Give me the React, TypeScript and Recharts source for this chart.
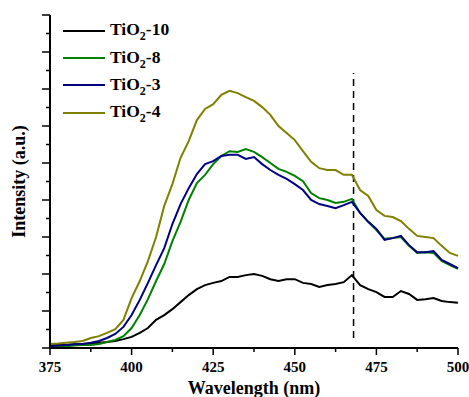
import React from 'react';
import { LineChart, Line, XAxis, YAxis, Legend, ReferenceLine } from 'recharts';

const wavelengths = [
  375, 377.5, 380, 382.5, 385, 387.5, 390, 392.5, 395, 397.5, 400,
  402.5, 405, 407.5, 410, 412.5, 415, 417.5, 420, 422.5, 425,
  427.5, 430, 432.5, 435, 437.5, 440, 442.5, 445, 447.5, 450,
  452.5, 455, 457.5, 460, 462.5, 465, 467.5, 470, 472.5, 475,
  477.5, 480, 482.5, 485, 487.5, 490, 492.5, 495, 497.5, 500,
];

const tio2_10 = [
  0.08, 0.08, 0.08, 0.10, 0.11, 0.12, 0.14, 0.16, 0.19, 0.24, 0.30,
  0.41, 0.54, 0.76, 0.89, 1.05, 1.24, 1.43, 1.59, 1.70, 1.76,
  1.81, 1.92, 1.92, 1.97, 2.00, 1.95, 1.86, 1.81, 1.86, 1.86,
  1.76, 1.73, 1.65, 1.70, 1.73, 1.78, 1.97, 1.70, 1.59, 1.51,
  1.38, 1.38, 1.54, 1.46, 1.30, 1.32, 1.35, 1.27, 1.24, 1.22,
];

const tio2_8 = [
  0.05, 0.05, 0.05, 0.07, 0.08, 0.08, 0.11, 0.16, 0.22, 0.32, 0.54,
  0.89, 1.32, 1.81, 2.27, 2.89, 3.41, 4.00, 4.46, 4.68, 4.97,
  5.19, 5.32, 5.30, 5.38, 5.30, 5.16, 5.00, 4.84, 4.76, 4.65,
  4.51, 4.19, 4.05, 4.00, 3.92, 3.95, 4.03, 3.65, 3.41, 3.19,
  2.95, 2.97, 3.00, 2.76, 2.57, 2.59, 2.57, 2.35, 2.24, 2.14,
];

const tio2_3 = [
  0.05, 0.07, 0.08, 0.10, 0.11, 0.14, 0.19, 0.27, 0.38, 0.57, 0.89,
  1.30, 1.76, 2.24, 2.70, 3.35, 3.89, 4.32, 4.70, 4.97, 5.05,
  5.19, 5.22, 5.22, 5.11, 5.16, 4.97, 4.81, 4.68, 4.57, 4.43,
  4.27, 4.00, 3.89, 3.84, 3.78, 3.86, 3.95, 3.65, 3.41, 3.22,
  2.92, 2.97, 3.03, 2.78, 2.59, 2.59, 2.62, 2.38, 2.27, 2.16,
];

const tio2_4 = [
  0.11, 0.12, 0.14, 0.16, 0.19, 0.27, 0.32, 0.41, 0.51, 0.76, 1.35,
  1.81, 2.35, 3.00, 3.84, 4.43, 5.14, 5.59, 6.16, 6.46, 6.59,
  6.84, 6.95, 6.89, 6.78, 6.68, 6.51, 6.30, 6.00, 5.81, 5.62,
  5.32, 5.03, 4.86, 4.81, 4.81, 4.68, 4.68, 4.27, 4.11, 3.73,
  3.57, 3.54, 3.43, 3.22, 3.03, 3.00, 2.97, 2.76, 2.57, 2.49,
];

const seriesNames = ['TiO2-10', 'TiO2-8', 'TiO2-3', 'TiO2-4'];
const seriesColors = ['#000000', '#008000', '#000080', '#808000'];

const xTicks = [375, 387.5, 400, 412.5, 425, 437.5, 450, 462.5, 475, 487.5, 500];
const yTicks = [0, 0.5, 1, 1.5, 2, 2.5, 3, 3.5, 4, 4.5, 5, 5.5, 6, 6.5, 7, 7.5, 8, 8.5, 9];
const markerWavelength = 468;
const markerRange = [0.27, 7.43];

const data = wavelengths.map((w, i) => ({
  w,
  s10: tio2_10[i],
  s8: tio2_8[i],
  s3: tio2_3[i],
  s4: tio2_4[i],
}));

const FONT = "'Liberation Serif', Tinos, 'Times New Roman', Times, 'DejaVu Serif', serif";

function XTick(props: any) {
  const { x, y, payload, side } = props;
  const v = payload.value;
  const major = v % 25 === 0;
  const len = major ? 7 : 4;
  const dir = side === 'top' ? -1 : 1;
  return (
    <g>
      <line x1={x} y1={y} x2={x} y2={y + dir * len} stroke="#000" strokeWidth={1.5} />
      {side === 'bottom' && major ? (
        <text x={x} y={y + 24} textAnchor="middle" style={{ fontFamily: FONT, fontWeight: 700, fontSize: 15 }} fill="#000">
          {v}
        </text>
      ) : null}
    </g>
  );
}

function YTick(props: any) {
  const { x, y, payload, side } = props;
  const v = payload.value;
  const major = Math.abs(v - Math.round(v)) < 1e-6;
  const len = major ? 8 : 4;
  const dir = side === 'right' ? 1 : -1;
  return <line x1={x} y1={y} x2={x + dir * len} y2={y} stroke="#000" strokeWidth={1.5} />;
}

function formatName(name: string) {
  const idx = name.indexOf('O2');
  if (idx < 0) return name;
  return (
    <>
      {name.slice(0, idx + 1)}
      <span style={{ fontSize: 12, position: 'relative', top: 5 }}>2</span>
      {name.slice(idx + 2)}
    </>
  );
}

function LegendContent(props: any) {
  const { payload } = props;
  const items = [...(payload || [])].sort(
    (a: any, b: any) => seriesNames.indexOf(a.value) - seriesNames.indexOf(b.value)
  );
  return (
    <div style={{ fontFamily: FONT, fontWeight: 700, fontSize: 17.5, color: '#000' }}>
      {items.map((e: any) => (
        <div key={e.value} style={{ display: 'flex', alignItems: 'center', height: 27.4 }}>
          <svg width={42} height={4} style={{ display: 'block' }}>
            <line x1={0} y1={2} x2={42} y2={2} stroke={e.color} strokeWidth={2} />
          </svg>
          <span style={{ marginLeft: 5, lineHeight: '17px', whiteSpace: 'nowrap' }}>{formatName(e.value)}</span>
        </div>
      ))}
    </div>
  );
}

function YLabel(props: any) {
  const { viewBox } = props;
  const cy = viewBox.y + viewBox.height / 2;
  const x = 25;
  return (
    <text
      x={x}
      y={cy}
      transform={`rotate(-90, ${x}, ${cy})`}
      textAnchor="middle"
      style={{ fontFamily: FONT, fontWeight: 700, fontSize: 18 }}
      fill="#000"
    >
      Intensity (a.u.)
    </text>
  );
}

function XLabel(props: any) {
  const { viewBox } = props;
  const cx = viewBox.x + viewBox.width / 2;
  return (
    <text x={cx} y={394} textAnchor="middle" style={{ fontFamily: FONT, fontWeight: 700, fontSize: 18 }} fill="#000">
      Wavelength (nm)
    </text>
  );
}

const axisLine = { stroke: '#000', strokeWidth: 2 };

export default function App() {
  const keys = ['s10', 's8', 's3', 's4'];
  return (
    <div style={{ position: 'absolute', left: 0, top: 0, background: '#fff' }}>
      <LineChart width={469} height={397} data={data} margin={{ top: 15, right: 11, bottom: 0, left: 0 }}>
        <XAxis
          dataKey="w"
          type="number"
          domain={[375, 500]}
          ticks={xTicks}
          interval={0}
          height={49}
          tickSize={0}
          tickMargin={0}
          tickLine={false}
          axisLine={axisLine}
          tick={(p: any) => <XTick {...p} side="bottom" />}
          label={(p: any) => <XLabel {...p} />}
        />
        <XAxis
          xAxisId="top"
          orientation="top"
          dataKey="w"
          type="number"
          domain={[375, 500]}
          ticks={xTicks}
          interval={0}
          height={0}
          tickSize={0}
          tickMargin={0}
          tickLine={false}
          axisLine={axisLine}
          tick={(p: any) => <XTick {...p} side="top" />}
        />
        <YAxis
          type="number"
          domain={[0, 9]}
          ticks={yTicks}
          interval={0}
          width={50}
          tickSize={0}
          tickMargin={0}
          tickLine={false}
          axisLine={axisLine}
          tick={(p: any) => <YTick {...p} side="left" />}
          label={(p: any) => <YLabel {...p} />}
        />
        <YAxis
          yAxisId="right"
          orientation="right"
          type="number"
          domain={[0, 9]}
          ticks={yTicks}
          interval={0}
          width={0}
          tickSize={0}
          tickMargin={0}
          tickLine={false}
          axisLine={axisLine}
          tick={(p: any) => <YTick {...p} side="right" />}
        />
        <Legend
          layout="vertical"
          align="center"
          verticalAlign="middle"
          content={(p: any) => <LegendContent {...p} />}
          wrapperStyle={{ left: 63, top: 17, width: 'auto', height: 'auto', margin: 0, padding: 0 }}
        />
        <ReferenceLine
          segment={[
            { x: markerWavelength, y: markerRange[0] },
            { x: markerWavelength, y: markerRange[1] },
          ]}
          stroke="#000"
          strokeWidth={1.5}
          strokeDasharray="7 5"
        />
        {keys.map((k, i) => (
          <Line
            key={k}
            dataKey={k}
            name={seriesNames[i]}
            stroke={seriesColors[i]}
            strokeWidth={2}
            dot={false}
            type="linear"
            isAnimationActive={false}
          />
        ))}
      </LineChart>
    </div>
  );
}
